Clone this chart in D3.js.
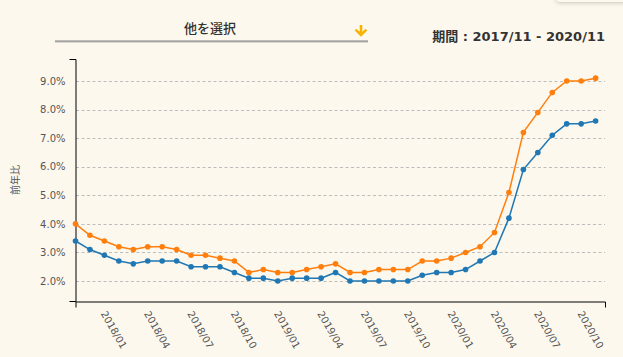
<!DOCTYPE html>
<html><head><meta charset="utf-8">
<script src="https://cdn.jsdelivr.net/npm/d3@7"></script>
<style>
html,body{margin:0;padding:0;background:#fdf8ed;}
svg{display:block;}
</style></head>
<body>
<script>
const months = ["2017/11","2017/12","2018/01","2018/02","2018/03","2018/04","2018/05","2018/06","2018/07","2018/08","2018/09","2018/10","2018/11","2018/12",
"2019/01","2019/02","2019/03","2019/04","2019/05","2019/06","2019/07","2019/08","2019/09","2019/10","2019/11","2019/12",
"2020/01","2020/02","2020/03","2020/04","2020/05","2020/06","2020/07","2020/08","2020/09","2020/10","2020/11"];
const tickLabels = ["2018/01","2018/04","2018/07","2018/10","2019/01","2019/04","2019/07","2019/10","2020/01","2020/04","2020/07","2020/10"];
const seriesOrange = [4.0,3.6,3.4,3.2,3.1,3.2,3.2,3.1,2.9,2.9,2.8,2.7,2.3,2.4,2.3,2.3,2.4,2.5,2.6,2.3,2.3,2.4,2.4,2.4,2.7,2.7,2.8,3.0,3.2,3.7,5.1,7.2,7.9,8.6,9.0,9.0,9.1];
const seriesBlue = [3.4,3.1,2.9,2.7,2.6,2.7,2.7,2.7,2.5,2.5,2.5,2.3,2.1,2.1,2.0,2.1,2.1,2.1,2.3,2.0,2.0,2.0,2.0,2.0,2.2,2.3,2.3,2.4,2.7,3.0,4.2,5.9,6.5,7.1,7.5,7.5,7.6];
const yTicks = [2,3,4,5,6,7,8,9];
const headerSelect = "他を選択";
const headerPeriod = "期間 : 2017/11 - 2020/11";
const yTitle = "前年比";

const W = 623, H = 357;
const svg = d3.select("body").append("svg").attr("width", W).attr("height", H);

// faint shadow at top right
const defs = svg.append("defs");
const f = defs.append("filter").attr("id","sh").attr("x","-50%").attr("y","-50%").attr("width","200%").attr("height","200%");
f.append("feDropShadow").attr("dx",0).attr("dy",1).attr("stdDeviation",2).attr("flood-color","#888").attr("flood-opacity",0.45);
svg.append("rect").attr("x",556).attr("y",-30).attr("width",90).attr("height",32).attr("rx",4)
  .attr("fill","#fdf8ed").attr("filter","url(#sh)");

// header
svg.append("text").attr("x",210).attr("y",33).attr("text-anchor","middle")
  .attr("font-family","'Noto Sans CJK JP', sans-serif").attr("font-size",13).attr("font-weight",500)
  .attr("fill","#333").text(headerSelect);
svg.append("rect").attr("x",55).attr("y",40.3).attr("width",313).attr("height",2.1).attr("fill","#a3a3a3");
svg.append("path").attr("d","M361,25 V34.5 M355.6,29.6 L361,35 L366.4,29.6")
  .attr("fill","none").attr("stroke","#f6b400").attr("stroke-width",2.6).attr("stroke-linejoin","miter");
svg.append("text").attr("x",605).attr("y",41).attr("text-anchor","end")
  .attr("font-family","'DejaVu Sans', 'Noto Sans CJK JP', sans-serif").attr("font-size",13).attr("font-weight","bold")
  .attr("fill","#333").text(headerPeriod);

// scales
const x = d3.scaleLinear().domain([0, 36.65]).range([75.5, 605]);
const y = d3.scaleLinear().domain([1.3, 9.77]).range([301, 59]);

// gridlines
svg.append("g").selectAll("line").data(yTicks).join("line")
  .attr("x1", 76).attr("x2", 605)
  .attr("y1", d => Math.round(y(d)) + 0.5).attr("y2", d => Math.round(y(d)) + 0.5)
  .attr("stroke", "#bdbdbd").attr("stroke-width", 1).attr("stroke-dasharray", "3,2.5");

// y axis
const yAxis = d3.axisLeft(y).tickValues(yTicks).tickSizeInner(0).tickSizeOuter(6).tickPadding(10)
  .tickFormat(d => d.toFixed(1) + "%");
const gy = svg.append("g").attr("transform","translate(75.5,0)").call(yAxis);
gy.select(".domain").attr("stroke","#000");
gy.selectAll("text").attr("font-family","'DejaVu Sans', sans-serif").attr("font-size",10).attr("fill","#555");

// x axis
const xAxis = d3.axisBottom(x).tickValues([]).tickSizeOuter(6);
const gx = svg.append("g").attr("transform","translate(0,301.5)").call(xAxis);
gx.select(".domain").attr("stroke","#000");

// x labels
svg.append("g").selectAll("text").data(tickLabels).join("text")
  .attr("transform", d => `translate(${x(months.indexOf(d)) - 4},313.5) rotate(60)`)
  .attr("text-anchor","start")
  .attr("font-family","'DejaVu Sans', sans-serif").attr("font-size",10).attr("fill","#555")
  .text(d => d);

// y title
svg.append("text").attr("transform","translate(19,180) rotate(-90)").attr("text-anchor","middle")
  .attr("font-family","'Noto Sans CJK JP', sans-serif").attr("font-size",10).attr("fill","#555").text(yTitle);

// lines
const line = d3.line().x((d,i) => x(i)).y(d => y(d));
[[seriesOrange,"#ff7f0e"],[seriesBlue,"#1f77b4"]].forEach(([s,c]) => {
  svg.append("path").datum(s).attr("d", line).attr("fill","none").attr("stroke",c).attr("stroke-width",1.5);
  svg.append("g").selectAll("circle").data(s).join("circle")
    .attr("cx",(d,i)=>x(i)).attr("cy",d=>y(d)).attr("r",2.8).attr("fill",c);
});
</script>
</body></html>
